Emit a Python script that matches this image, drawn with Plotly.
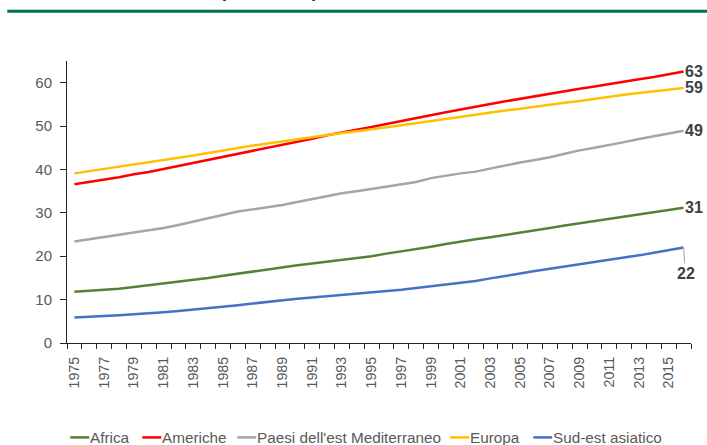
import plotly.graph_objects as go

# Years on the category axis
years = list(range(1975, 2017))
tick_years = list(range(1975, 2016, 2))

# Series values
africa = [11.8, 12.0, 12.2, 12.5, 12.9, 13.3, 13.7, 14.2, 14.6, 15.0,
          15.5, 16.0, 16.5, 17.0, 17.5, 17.9, 18.3, 18.7, 19.1, 19.6,
          20.0, 20.6, 21.1, 21.7, 22.2, 22.8, 23.4, 23.9, 24.4, 24.9,
          25.5, 26.0, 26.5, 27.1, 27.6, 28.1, 28.7, 29.2, 29.7, 30.2,
          30.7, 31.2]
americhe = [36.6, 37.1, 37.6, 38.2, 38.9, 39.4, 40.1, 40.8, 41.5, 42.1,
            42.8, 43.5, 44.2, 44.9, 45.6, 46.4, 47.1, 47.9, 48.5, 49.2,
            49.8, 50.5, 51.2, 51.9, 52.6, 53.2, 53.8, 54.5, 55.1, 55.7,
            56.3, 56.9, 57.4, 58.0, 58.6, 59.1, 59.7, 60.3, 60.8, 61.3,
            61.9, 62.6]
paesi_med = [23.4, 23.9, 24.4, 24.9, 25.4, 25.9, 26.5, 27.2, 28.0, 28.8,
             29.5, 30.3, 30.8, 31.3, 31.8, 32.5, 33.2, 33.9, 34.5, 35.0,
             35.5, 36.0, 36.5, 37.1, 38.0, 38.6, 39.1, 39.5, 40.2, 41.0,
             41.6, 42.2, 42.8, 43.6, 44.4, 45.0, 45.6, 46.3, 47.0, 47.6,
             48.3, 48.9]
europa = [39.1, 39.6, 40.1, 40.6, 41.1, 41.6, 42.1, 42.6, 43.2, 43.8,
          44.4, 45.0, 45.5, 46.0, 46.5, 47.0, 47.4, 47.9, 48.4, 48.8,
          49.2, 49.7, 50.2, 50.7, 51.1, 51.6, 52.1, 52.6, 53.1, 53.6,
          54.0, 54.5, 55.0, 55.4, 55.8, 56.3, 56.7, 57.2, 57.6, 58.0,
          58.4, 58.8]
sud_est = [5.9, 6.0, 6.2, 6.4, 6.6, 6.9, 7.1, 7.4, 7.7, 8.0,
           8.3, 8.7, 9.1, 9.5, 9.9, 10.2, 10.5, 10.8, 11.1, 11.4,
           11.6, 12.0, 12.3, 12.7, 13.1, 13.5, 13.9, 14.3, 14.9, 15.4,
           16.0, 16.6, 17.1, 17.6, 18.1, 18.6, 19.1, 19.6, 20.2, 20.8,
           21.4, 22.0]

names = ["Africa", "Americhe", "Paesi dell'est Mediterraneo", "Europa", "Sud-est asiatico"]
series = [africa, americhe, paesi_med, europa, sud_est]
colors = ["#548235", "#FF0000", "#A5A5A5", "#FFC000", "#4472C4"]

FONT = "Liberation Sans, Arial, sans-serif"
TXT = "#595959"
AX = "#262626"

# Plot-area geometry (pixels) used to place decorations outside the axes
W, H = 707, 445
L, R, T, B = 66.7, 16.2, 61.0, 102.3
PW, PH = W - L - R, H - T - B


def px_x(px):
    return (px - L) / PW


def px_y(py):
    return (H - B - py) / PH


fig = go.Figure()
for name, vals, col in zip(names, series, colors):
    fig.add_trace(go.Scatter(x=years, y=vals, mode="lines", name=name,
                             line=dict(color=col, width=2.5),
                             showlegend=False, hoverinfo="x+y+name"))

# End-of-line value labels
for name, vals in zip(names, series):
    last = vals[-1]
    if name == "Sud-est asiatico":
        fig.add_annotation(x=years[-1], y=last, text=f"<b>{round(last)}</b>",
                           showarrow=True, arrowhead=0, arrowwidth=1,
                           arrowcolor="#A5A5A5", ax=2, ay=26, standoff=0,
                           font=dict(family=FONT, size=16, color="#404040"))
    else:
        fig.add_annotation(x=years[-1], y=last, text=f"<b>{round(last)}</b>",
                           showarrow=False, xanchor="left", yanchor="middle",
                           xshift=-1,
                           font=dict(family=FONT, size=16, color="#404040"))

# Header rule and (mostly clipped) heading
fig.add_shape(type="line", xref="paper", yref="paper",
              x0=px_x(7), x1=px_x(707), y0=px_y(11.3), y1=px_y(11.3),
              line=dict(color="#00704A", width=3))
fig.add_annotation(xref="paper", yref="paper", x=px_x(269), y=px_y(3.0),
                   xanchor="center", yanchor="bottom", showarrow=False,
                   text="<b>(1975-2016)</b>",
                   font=dict(family=FONT, size=18, color="#262626"))

# Legend row drawn below the axis
legend_sym = [70, 142, 237, 450, 533]
legend_y = px_y(437)
for name, col, x0 in zip(names, colors, legend_sym):
    fig.add_shape(type="line", xref="paper", yref="paper",
                  x0=px_x(x0), x1=px_x(x0 + 19), y0=legend_y, y1=legend_y,
                  line=dict(color=col, width=2.5))
    fig.add_annotation(xref="paper", yref="paper", x=px_x(x0 + 19), y=legend_y,
                       xanchor="left", yanchor="middle", showarrow=False,
                       text=name, borderpad=0,
                       font=dict(family=FONT, size=15.3, color=TXT))

fig.update_xaxes(range=[1974.5, 2016.5], tickmode="array",
                 tickvals=tick_years, ticktext=[str(y) for y in tick_years],
                 tickangle=-90, ticks="", showline=True, linecolor=AX,
                 linewidth=1, showgrid=False, zeroline=False,
                 tickfont=dict(family=FONT, size=14.3, color=TXT),
                 ticklabelstandoff=7,
                 minor=dict(ticks="outside", ticklen=5, tickcolor=AX,
                            tick0=1974.5, dtick=1, showgrid=False))
fig.update_yaxes(range=[0, 65], tickmode="array", tickvals=[0, 10, 20, 30, 40, 50, 60],
                 ticks="outside", ticklen=6, tickcolor=AX, showline=True,
                 linecolor=AX, linewidth=1, showgrid=False, zeroline=False,
                 tickfont=dict(family=FONT, size=15, color=TXT),
                 ticklabelstandoff=5)

fig.update_layout(width=W, height=H, margin=dict(l=L, r=R, t=T, b=B),
                  paper_bgcolor="white", plot_bgcolor="white",
                  showlegend=False)

fig.write_html("out.html")
